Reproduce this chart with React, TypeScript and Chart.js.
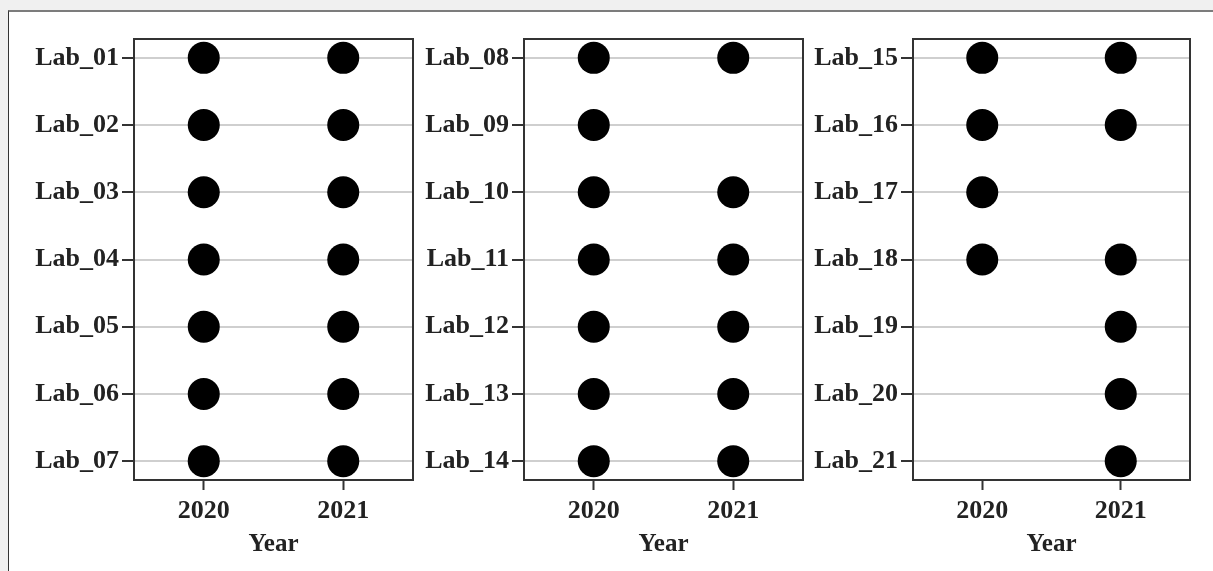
import React, { useEffect, useRef } from 'react';
import { Chart, registerables } from 'chart.js';

Chart.register(...registerables);

// ---- data ----
const years = [2020, 2021];
const panelALabs = ['Lab_01', 'Lab_02', 'Lab_03', 'Lab_04', 'Lab_05', 'Lab_06', 'Lab_07'];
const panelBLabs = ['Lab_08', 'Lab_09', 'Lab_10', 'Lab_11', 'Lab_12', 'Lab_13', 'Lab_14'];
const panelCLabs = ['Lab_15', 'Lab_16', 'Lab_17', 'Lab_18', 'Lab_19', 'Lab_20', 'Lab_21'];
const labs2020 = [
  'Lab_01', 'Lab_02', 'Lab_03', 'Lab_04', 'Lab_05', 'Lab_06', 'Lab_07',
  'Lab_08', 'Lab_09', 'Lab_10', 'Lab_11', 'Lab_12', 'Lab_13', 'Lab_14',
  'Lab_15', 'Lab_16', 'Lab_17', 'Lab_18',
];
const labs2021 = [
  'Lab_01', 'Lab_02', 'Lab_03', 'Lab_04', 'Lab_05', 'Lab_06', 'Lab_07',
  'Lab_08', 'Lab_10', 'Lab_11', 'Lab_12', 'Lab_13', 'Lab_14',
  'Lab_15', 'Lab_16', 'Lab_18', 'Lab_19', 'Lab_20', 'Lab_21',
];
const xAxisTitle = 'Year';

// ---- layout (page pixels) ----
const PAGE_W = 1213;
const PAGE_H = 571;
const Y_AXIS_W = 118;
const BOX_TOP = 39;
const BOX_BOTTOM = 480;
const PAD_RIGHT = 4;
const panelLayout = [
  { labs: panelALabs, boxLeft: 134, boxRight: 413 },
  { labs: panelBLabs, boxLeft: 524, boxRight: 803 },
  { labs: panelCLabs, boxLeft: 913, boxRight: 1190 },
];

const FONT_FAMILY = "'Liberation Serif', 'Times New Roman', serif";
const TEXT_COLOR = '#222';
const FRAME_COLOR = '#333';

const boxPlugin = {
  id: 'panelBox',
  afterDatasetsDraw(chart: any) {
    const { ctx, chartArea } = chart;
    ctx.save();
    ctx.strokeStyle = FRAME_COLOR;
    ctx.lineWidth = 2;
    ctx.strokeRect(chartArea.left, chartArea.top, chartArea.right - chartArea.left, chartArea.bottom - chartArea.top);
    ctx.restore();
  },
};

function Panel({ labs, boxLeft, boxRight }: { labs: string[]; boxLeft: number; boxRight: number }) {
  const ref = useRef<HTMLCanvasElement | null>(null);
  const canvasLeft = boxLeft - Y_AXIS_W;
  const canvasW = boxRight + PAD_RIGHT - canvasLeft;

  useEffect(() => {
    if (!ref.current) return;
    const points: { x: number; y: number }[] = [];
    labs.forEach((lab, i) => {
      if (labs2020.includes(lab)) points.push({ x: years[0], y: i });
      if (labs2021.includes(lab)) points.push({ x: years[1], y: i });
    });

    const chart = new Chart(ref.current, {
      type: 'scatter',
      data: {
        datasets: [
          {
            data: points,
            pointRadius: 16,
            pointHoverRadius: 16,
            pointBackgroundColor: '#000',
            pointBorderWidth: 0,
            borderWidth: 0,
          },
        ],
      },
      options: {
        responsive: false,
        animation: false,
        devicePixelRatio: 1,
        layout: { autoPadding: false, padding: { left: 0, right: PAD_RIGHT, top: BOX_TOP, bottom: 0 } },
        plugins: { legend: { display: false }, tooltip: { enabled: false } },
        scales: {
          x: {
            type: 'linear',
            min: years[0] - 0.5,
            max: years[years.length - 1] + 0.5,
            afterBuildTicks: (scale: any) => {
              scale.ticks = years.map((v) => ({ value: v }));
            },
            afterFit: (scale: any) => {
              scale.height = PAGE_H - BOX_BOTTOM;
            },
            grid: {
              drawOnChartArea: false,
              drawTicks: true,
              tickLength: 10,
              tickColor: FRAME_COLOR,
              tickWidth: 2,
            },
            border: { display: false },
            ticks: {
              padding: 6,
              color: TEXT_COLOR,
              font: { family: FONT_FAMILY, size: 26, weight: 'bold' },
              callback: (v: any) => String(v),
              maxRotation: 0,
            },
            title: {
              display: true,
              text: xAxisTitle,
              color: TEXT_COLOR,
              font: { family: FONT_FAMILY, size: 25, weight: 'bold' },
              padding: { top: 0, bottom: 11 },
            },
          },
          y: {
            type: 'linear',
            reverse: true,
            min: -0.28,
            max: labs.length - 1 + 0.28,
            afterBuildTicks: (scale: any) => {
              scale.ticks = labs.map((_, i) => ({ value: i }));
            },
            afterFit: (scale: any) => {
              scale.width = Y_AXIS_W;
            },
            grid: {
              color: '#cfcfcf',
              lineWidth: 2,
              drawTicks: true,
              tickLength: 12,
              tickColor: FRAME_COLOR,
              tickWidth: 2,
            },
            border: { display: false },
            ticks: {
              padding: 3,
              color: TEXT_COLOR,
              font: { family: FONT_FAMILY, size: 26, weight: 'bold' },
              callback: (v: any) => labs[Math.round(Number(v))] ?? '',
            },
          },
        },
      },
      plugins: [boxPlugin],
    } as any);
    return () => chart.destroy();
  }, [labs]);

  return (
    <canvas
      ref={ref}
      width={canvasW}
      height={PAGE_H}
      style={{ position: 'absolute', left: canvasLeft, top: 0, width: canvasW, height: PAGE_H }}
    />
  );
}

export default function App() {
  return (
    <div
      style={{
        position: 'absolute',
        left: 0,
        top: 0,
        width: PAGE_W,
        height: PAGE_H,
        background: '#f0f0f0',
        overflow: 'hidden',
      }}
    >
      <div
        style={{
          position: 'absolute',
          left: 8,
          top: 10,
          right: 0,
          bottom: 0,
          background: '#fff',
          borderTop: '2px solid #7c7c7c',
          borderLeft: '1px solid #333',
        }}
      />
      {panelLayout.map((p) => (
        <Panel key={p.labs[0]} labs={p.labs} boxLeft={p.boxLeft} boxRight={p.boxRight} />
      ))}
    </div>
  );
}
